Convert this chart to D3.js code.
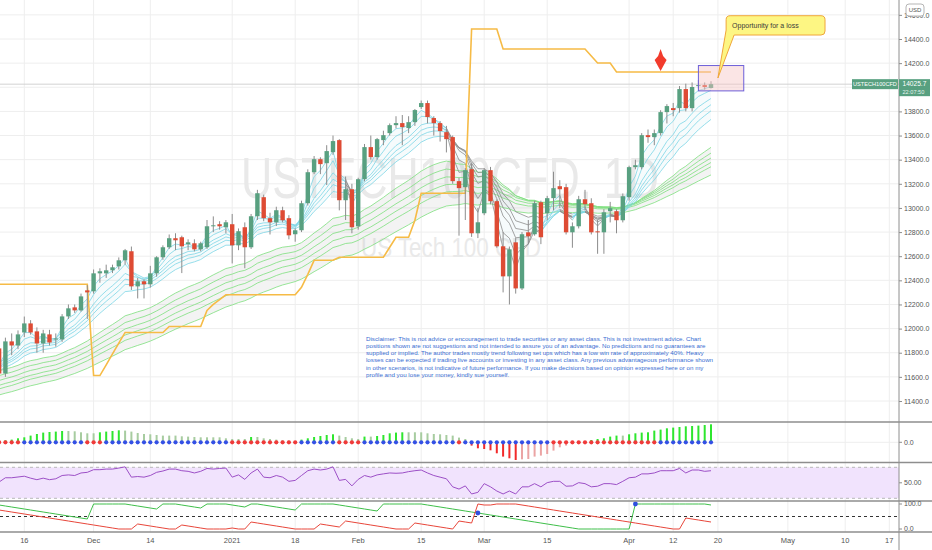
<!DOCTYPE html>
<html>
<head>
<meta charset="utf-8">
<script src="https://cdn.jsdelivr.net/npm/d3@7"></script>
<style>
body { margin: 0; background: #fff; }
svg text { font-family: "Liberation Sans", Arial, sans-serif; }
</style>
</head>
<body>
<script>
//daily candles, 10 nov 2020 -> 20 apr 2021, one entry per bar index
var open = [11836,11628,11894,11860,11968,12043,11977,11877,11952,11910,
    11910,12101,12176,12151,12317,12309,12458,12458,12483,12516,
    12566,12641,12350,12392,12367,12458,12591,12674,12749,12757,
    12699,12707,12657,12674,12848,12865,12840,12865,12690,12840,
    12674,12931,13089,12915,12881,12981,12915,12782,12815,13039,
    13296,13404,13371,13462,13562,13064,13155,12848,13238,13504,
    13421,13562,13620,13686,13703,13662,13711,13836,13869,13745,
    13703,13628,13587,13222,13172,13321,12790,12956,13313,13056,
    12682,12433,12715,12333,12798,12782,13047,12956,13081,13180,
    13172,12798,12848,13072,13039,12806,12798,12973,12973,12898,
    13089,13338,13338,13603,13587,13620,13794,13827,13827,13985,
    13827,14010,14018,13994];
var close = [11628,11894,11860,11952,12043,11968,11877,11960,11885,11918,
    12101,12168,12151,12267,12300,12458,12475,12483,12508,12566,
    12649,12350,12392,12367,12458,12591,12674,12749,12732,12682,
    12715,12657,12707,12848,12856,12848,12881,12690,12807,12674,
    12931,13122,12915,12881,12981,12898,12773,12815,13039,13296,
    13404,13363,13471,13554,13064,13155,12840,13238,13504,13421,
    13570,13603,13686,13703,13670,13711,13811,13869,13753,13703,
    13637,13570,13222,13164,13313,12790,12881,13313,13056,12682,
    12433,12657,12333,12782,12765,13039,12757,13081,13164,13155,
    12798,12848,13072,13031,12798,12798,12964,12998,12898,13097,
    13338,13354,13603,13587,13620,13794,13844,13811,13985,13827,
    14002,14018,14002,14025.7];
var high = [11880,11925,11960,11985,12100,12070,12010,11990,11990,11960,
    12120,12200,12200,12290,12360,12490,12500,12530,12530,12590,
    12660,12680,12420,12410,12520,12600,12690,12780,12790,12770,
    12740,12740,12720,12900,12930,12890,12900,12950,12830,12880,
    12950,13150,13110,12960,13010,13010,12940,12830,13060,13320,
    13430,13420,13520,13600,13570,13260,13200,13250,13530,13600,
    13580,13640,13700,13760,13770,13760,13820,13890,13890,13760,
    13720,13680,13600,13250,13330,13370,13000,13330,13340,13070,
    12800,12680,12750,12800,12900,13060,13060,13100,13300,13230,
    13200,12880,13100,13150,13080,12900,12990,13050,12990,13120,
    13350,13400,13620,13650,13650,13810,13860,13870,14010,14030,
    14040,14060,14040,14050];
var low = [11560,11600,11780,11830,11930,11950,11800,11800,11860,11850,
    11890,12080,12130,12140,12080,12290,12380,12420,12460,12490,
    12530,12320,12250,12250,12340,12430,12570,12660,12650,12460,
    12650,12640,12640,12660,12800,12820,12790,12540,12650,12500,
    12660,12900,12890,12780,12850,12880,12740,12720,12800,13020,
    13280,13280,13190,13440,12980,12900,12790,12820,13220,13400,
    13400,13520,13600,13660,13520,13620,13680,13820,13700,13600,
    13550,13460,13200,12770,12900,12760,12750,12940,13030,12670,
    12300,12200,12290,12320,12700,12770,12700,12900,12980,13000,
    12780,12670,12830,12980,12780,12620,12620,12880,12790,12880,
    13060,13320,13320,13540,13520,13600,13700,13760,13790,13800,
    13800,13990,13980,13990];

//trailing stop (orange)
var stop = [12367,12367,12367,12367,12367,12367,12367,12367,12367,12367,
    12367,12367,12367,12367,12367,11611,11611,11700,11790,11880,
    11968,11968,11968,11968,11968,11968,11968,12018,12018,12018,
    12018,12018,12018,12151,12200,12240,12280,12280,12280,12280,
    12280,12280,12280,12280,12280,12280,12280,12280,12342,12450,
    12566,12566,12566,12566,12591,12591,12591,12591,12591,12591,
    12591,12591,12674,12757,12757,12757,12898,13122,13122,13122,
    13122,13122,13122,13122,13122,14483,14483,14483,14483,14483,
    14317,14317,14317,14317,14317,14317,14317,14317,14317,14317,
    14317,14317,14317,14317,14259,14201,14201,14201,14126,14126,
    14126,14126,14126,14126,14126,14126,14126,14126,14126,14126,
    14126,14126,14126,14126];

//moving average ribbons, with the value each line had at the first bar
var shortPeriods = [3, 5, 8, 10, 12, 15];
var shortSeeds = [11700, 11700, 11690, 11680, 11670, 11650];
var longPeriods = [30, 35, 40, 45, 50, 60];
var longSeeds = [11650, 11610, 11570, 11530, 11500, 11450];

//squeeze momentum histogram + squeeze dots (r = on, b = off)
var sqz = [65,100,135,200,250,335,415,485,515,535,
    565,565,550,500,450,450,500,535,565,600,
    585,535,465,415,400,365,335,335,335,300,
    285,265,250,250,250,250,200,165,165,165,
    265,265,200,165,135,100,85,65,135,200,
    265,315,365,400,335,265,200,165,285,285,
    315,365,450,485,500,500,500,500,450,415,
    400,365,335,235,165,-165,-300,-335,-400,-550,
    -715,-800,-885,-850,-835,-715,-665,-585,-415,-250,
    -165,-85,-50,0,115,165,200,285,335,335,
    400,450,485,500,585,635,700,735,765,800,
    815,835,865,900];
var sqzDots = ("rrrr" + "bbbbbbbbbb" + "rrr" + "bbbbbbbbbbbbbbbbbbbb" + "rrrrrrrrrrr" +
    "bbbbbb" + "rrrr" + "bbbbbbbbbbbbbbb" + "r" + "bbbbbbbbbbbbbb" +
    "rrrrrrrrrrrrrrrrr" + "bbbbbbbbb").split("");

//rsi
var rsi = [51,56.5,56.5,57.5,58.5,56,54,56,54,55.2,
    59.4,60.2,59.4,62.7,63.5,66.9,66.9,67.7,67.7,69,
    70.6,57.3,58.1,57.3,59.4,63.5,65.2,67.7,67.7,65.6,
    64.8,62.7,64.8,68.5,67.7,68.5,69,57.3,60.2,54.4,
    62.7,67.7,57.3,56.5,59.4,57.3,51.9,53.1,59.4,65.6,
    67.7,66.5,67.7,70.6,53.1,54.4,46,54.4,59.4,57.3,
    60.2,61.5,62.7,62.3,62.7,64.4,65.6,66.5,62.7,59.4,
    57.3,55.2,44.8,41.9,46,35.6,37.7,48.9,44.8,39.4,
    35.6,39.4,35.6,44.8,44.8,48.9,44.8,50.2,51.9,51.9,
    45.6,46,50.2,48.9,44.8,45.6,48.9,48.9,47.7,51.9,
    56.5,57.3,61.5,61.5,62.7,65.6,65.6,65.6,68.5,62.7,
    66.5,66.5,64.8,65.6];

//aroon up / down
var aroonUp = [96,92,88,84,80,76,72,68,64,60,
    56,52,48,44,40,100,100,100,100,100,
    100,96,92,88,84,80,100,100,100,96,
    92,88,84,100,100,100,100,96,92,88,
    100,100,96,92,88,84,80,76,100,100,
    100,100,100,100,96,92,88,84,80,76,
    72,100,100,100,100,100,100,100,96,92,
    88,84,80,76,72,68,64,60,56,52,
    48,44,40,36,32,28,24,20,16,12,
    8,4,0,0,0,0,0,0,0,0,
    0,100,100,100,100,100,100,100,100,100,
    100,100,100,96];
var aroonDown = [76,72,68,64,60,56,52,48,44,40,
    36,32,28,24,20,16,12,8,4,0,
    0,0,20,16,12,8,4,0,0,16,
    12,8,4,0,0,0,0,4,0,0,
    28,24,20,16,12,8,4,0,0,0,
    0,20,16,12,8,32,28,24,20,16,
    12,8,4,0,0,0,24,20,16,12,
    8,4,0,32,28,24,100,96,96,100,
    100,100,100,96,92,88,84,80,76,72,
    68,64,60,56,52,48,44,40,36,32,
    28,24,20,16,12,8,4,0,0,44,
    40,36,32,28];

//time axis: labels and the bar index they sit on (future ones fractional)
var tickLabels = ["16","Dec","14","2021","18","Feb","15","Mar","15","Apr","12","20","May","10","17"];
var tickIdx = [4, 15, 24, 37, 47, 57, 67, 77, 87, 100, 107, 114.1, 125.2, 134.3, 141.3];
var priceTicks = [11400,11600,11800,12000,12200,12400,12600,12800,13000,13200,13400,13600,13800,14000,14200,14400,14600];

//annotations (bar index / price)
var arrowAt = {idx: 105};
var lossBox = {idx: [111, 118.2], price: [14180, 13970]};
var callout = {idx: [115.4, 131.1], price: [14593, 14433], tipIdx: 114.1, tipPrice: 14077, text: "Opportunity for a loss"};

var disclaimer = [
    "Disclaimer: This is not advice or encouragement to trade securities or any asset class. This is not investment advice. Chart",
    "positions shown are not suggestions and not intended to assure you of an advantage. No predictions and no guarantees are",
    "supplied or implied. The author trades mostly trend following set ups which has a low win rate of approximately 40%. Heavy",
    "losses can be expected if trading live accounts or investing in any asset class. Any previous advantageous performance shown",
    "in other scenarios, is not indicative of future performance.  If you make decisions based on opinion expressed here or on my",
    "profile and you lose your money, kindly sue yourself."
];

var upColor = "#58a080";
var downColor = "#de4b34";
var width = 932, height = 550, axisX = 899;

var n = close.length;
var idx = d3.range(n);

var x = d3.scaleLinear().domain([0, 113]).range([-0.9, 711]);
var y = d3.scaleLinear().domain([11400, 14400]).range([401, 39]);
var ySqz = d3.scaleLinear().domain([-1000, 1000]).range([462.3, 422.3]);
var yRsi = d3.scaleLinear().domain([30, 70]).range([498.3, 467.3]);
var yAr = d3.scaleLinear().domain([0, 100]).range([529, 504]);

var panes = [[0, 422], [422, 462.5], [462.5, 501], [501, 532]];

const svg = d3.select("body").append("svg")
    .attr("width", width)
    .attr("height", height);

var defs = svg.append("defs");
panes.forEach((p, k) => {
    defs.append("clipPath").attr("id", "clip" + k)
        .append("rect").attr("x", 0).attr("y", p[0]).attr("width", axisX).attr("height", p[1] - p[0]);
});

//grid
var grid = svg.append("g").attr("stroke", "#eeeeee").attr("stroke-width", 1);
grid.selectAll(".vg").data(tickIdx).enter().append("line")
    .attr("x1", d => x(d)).attr("x2", d => x(d))
    .attr("y1", 0).attr("y2", 532);
grid.selectAll(".hg").data(priceTicks).enter().append("line")
    .attr("x1", 0).attr("x2", axisX)
    .attr("y1", d => y(d)).attr("y2", d => y(d));
grid.append("line").attr("x1", 0).attr("x2", axisX).attr("y1", ySqz(0)).attr("y2", ySqz(0));
grid.append("line").attr("x1", 0).attr("x2", axisX).attr("y1", yRsi(50)).attr("y2", yRsi(50));

//watermark
var wm = svg.append("g").attr("clip-path", "url(#clip0)").attr("fill", "#e9e9e9").attr("text-anchor", "middle");
wm.append("text").attr("x", 450).attr("y", 198).attr("font-size", 58)
    .attr("textLength", 418).attr("lengthAdjust", "spacingAndGlyphs")
    .text("USTECH100CFD, 1D");
wm.append("text").attr("x", 451).attr("y", 257).attr("font-size", 28)
    .attr("textLength", 180).attr("lengthAdjust", "spacingAndGlyphs")
    .text("US Tech 100 CFD");

//moving averages
function ema(vals, period, seed) {
    var k = 2 / (period + 1);
    var out = [seed];
    for (var i = 1; i < vals.length; i++) {
        out.push(out[i - 1] + k * (vals[i] - out[i - 1]));
    }
    return out;
}
var shortEmas = shortPeriods.map((p, k) => ema(close, p, shortSeeds[k]));
var longEmas = longPeriods.map((p, k) => ema(close, p, longSeeds[k]));

var main = svg.append("g").attr("clip-path", "url(#clip0)");

//grey fill inside the long ribbon
var area = d3.area()
    .x(i => x(i))
    .y0(i => y(d3.min(longEmas, e => e[i])))
    .y1(i => y(d3.max(longEmas, e => e[i])));
main.append("path").datum(idx).attr("d", area).attr("fill", "#b4b4b4").attr("opacity", 0.16);

var shortArea = d3.area()
    .x(i => x(i))
    .y0(i => y(d3.min(shortEmas, e => e[i])))
    .y1(i => y(d3.max(shortEmas, e => e[i])));
main.append("path").datum(idx).attr("d", shortArea).attr("fill", "#b4dce4").attr("opacity", 0.12);

function drawRibbon(lines, colorFn) {
    lines.forEach(e => {
        main.append("g").selectAll("line").data(idx.slice(1)).enter().append("line")
            .attr("x1", i => x(i - 1)).attr("y1", i => y(e[i - 1]))
            .attr("x2", i => x(i)).attr("y2", i => y(e[i]))
            .attr("stroke", i => colorFn(i))
            .attr("stroke-width", 0.8);
    });
}
//long group green while ema30 above ema60, short group cyan while ema3 above ema15
drawRibbon(longEmas, i => longEmas[0][i] >= longEmas[5][i] ? "#7ee07e" : "#a9a9a9");
drawRibbon(shortEmas, i => shortEmas[0][i] >= shortEmas[5][i] ? "#7cd6e6" : "#8d8d8d");

//trailing stop
main.append("path").datum(idx)
    .attr("d", d3.line().x(i => x(i)).y(i => y(stop[i])))
    .attr("fill", "none")
    .attr("stroke", "#f6bb46")
    .attr("stroke-width", 1.6);

//last price line
var last = close[n - 1];
main.append("line").attr("x1", 0).attr("x2", axisX)
    .attr("y1", y(last)).attr("y2", y(last))
    .attr("stroke", "#d2d2d2").attr("stroke-width", 1);

//candles
var candles = main.append("g").selectAll("g").data(idx).enter().append("g");
candles.append("line")
    .attr("x1", i => x(i)).attr("x2", i => x(i))
    .attr("y1", i => y(high[i])).attr("y2", i => y(low[i]))
    .attr("stroke", "#8c8c8c").attr("stroke-width", 1);
candles.append("rect")
    .attr("x", i => x(i) - 2.2)
    .attr("width", 4.4)
    .attr("y", i => y(Math.max(open[i], close[i])))
    .attr("height", i => Math.max(1, Math.abs(y(open[i]) - y(close[i]))))
    .attr("fill", i => close[i] >= open[i] ? upColor : downColor);

//red arrow above the stop
var ax = x(arrowAt.idx), ay = y(stop[arrowAt.idx]) - 1;
main.append("path")
    .attr("d", `M${ax},${ay - 22} L${ax + 2.5},${ay - 15} L${ax + 6},${ay - 11} L${ax},${ay} L${ax - 6},${ay - 11} L${ax - 2.5},${ay - 15} Z`)
    .attr("fill", "#f23b2c");

//loss box
svg.append("rect")
    .attr("x", x(lossBox.idx[0])).attr("y", y(lossBox.price[0]))
    .attr("width", x(lossBox.idx[1]) - x(lossBox.idx[0]))
    .attr("height", y(lossBox.price[1]) - y(lossBox.price[0]))
    .attr("fill", "#f7c6c6").attr("fill-opacity", 0.45)
    .attr("stroke", "#6d5fd8").attr("stroke-width", 1);

//callout bubble
var cx0 = x(callout.idx[0]), cx1 = x(callout.idx[1]);
var cy0 = y(callout.price[0]), cy1 = y(callout.price[1]);
var tx = x(callout.tipIdx), ty = y(callout.tipPrice), r = 4;
svg.append("path")
    .attr("d", `M${cx0 + r},${cy0} H${cx1 - r} Q${cx1},${cy0} ${cx1},${cy0 + r} V${cy1 - r} Q${cx1},${cy1} ${cx1 - r},${cy1}` +
        ` H${cx0 + 8} L${tx},${ty} L${cx0},${cy1 - 5} V${cy0 + r} Q${cx0},${cy0} ${cx0 + r},${cy0} Z`)
    .attr("fill", "#fdf683")
    .attr("stroke", "#f0a63a")
    .attr("stroke-width", 1);
svg.append("text").attr("x", cx0 + 6).attr("y", (cy0 + cy1) / 2 + 2.5)
    .attr("font-size", 7).attr("fill", "#3a3a3a")
    .text(callout.text);

//disclaimer
svg.append("g").attr("fill", "#3a6ed2").attr("font-size", 6.2)
    .selectAll("text").data(disclaimer).enter().append("text")
    .attr("x", 366).attr("y", (d, k) => 340.5 + k * 7.3)
    .text(d => d);

//squeeze momentum pane
var p1 = svg.append("g").attr("clip-path", "url(#clip1)");
p1.selectAll("rect").data(idx).enter().append("rect")
    .attr("x", i => x(i) - 1)
    .attr("width", 2)
    .attr("y", i => ySqz(Math.max(sqz[i], 0)))
    .attr("height", i => Math.abs(ySqz(sqz[i]) - ySqz(0)))
    .attr("fill", i => {
        var prev = i > 0 ? sqz[i - 1] : sqz[i];
        if (sqz[i] >= 0) return sqz[i] > prev ? "#2ee62e" : "#a7cca0";
        return sqz[i] < prev ? "#f22a2a" : "#eba4a4";
    });
p1.selectAll("circle").data(idx).enter().append("circle")
    .attr("cx", i => x(i)).attr("cy", ySqz(0)).attr("r", 2.1)
    .attr("fill", i => sqzDots[i] == "r" ? "#f03a3a" : "#3450e6");

//rsi pane
var p2 = svg.append("g").attr("clip-path", "url(#clip2)");
p2.append("rect").attr("x", 0).attr("width", axisX)
    .attr("y", yRsi(70)).attr("height", yRsi(30) - yRsi(70))
    .attr("fill", "#f1e3fd");
[70, 30].forEach(v => {
    p2.append("line").attr("x1", 0).attr("x2", axisX).attr("y1", yRsi(v)).attr("y2", yRsi(v))
        .attr("stroke", "#b8b8b8").attr("stroke-dasharray", "3,3");
});
p2.append("path").datum(idx)
    .attr("d", d3.line().x(i => x(i)).y(i => yRsi(rsi[i])))
    .attr("fill", "none").attr("stroke", "#9c4fc6").attr("stroke-width", 1);

//aroon pane
var p3 = svg.append("g").attr("clip-path", "url(#clip3)");
p3.append("line").attr("x1", 0).attr("x2", axisX).attr("y1", yAr(50)).attr("y2", yAr(50))
    .attr("stroke", "#333").attr("stroke-dasharray", "3,3");
p3.append("path").datum(idx)
    .attr("d", d3.line().x(i => x(i)).y(i => yAr(aroonUp[i])))
    .attr("fill", "none").attr("stroke", "#3fbf4a").attr("stroke-width", 1);
p3.append("path").datum(idx)
    .attr("d", d3.line().x(i => x(i)).y(i => yAr(aroonDown[i])))
    .attr("fill", "none").attr("stroke", "#e8463a").attr("stroke-width", 1);
var crosses = idx.filter(i => i > 0 && Math.sign(aroonUp[i] - aroonDown[i]) != Math.sign(aroonUp[i - 1] - aroonDown[i - 1]));
p3.selectAll("circle").data(crosses).enter().append("circle")
    .attr("cx", i => x(i)).attr("cy", i => yAr(aroonUp[i])).attr("r", 2.4)
    .attr("fill", "#2f4fe0");

//pane separators
svg.append("g").attr("stroke", "#8e8e8e").attr("stroke-width", 1.4)
    .selectAll("line").data([422, 462.5, 501, 532]).enter().append("line")
    .attr("x1", 0).attr("x2", width).attr("y1", d => d).attr("y2", d => d);

//price scale (the label under the last price badge is hidden, like on the chart)
var last = close[n - 1];
var labelTicks = priceTicks.filter(v => Math.abs(y(v) - y(last)) > 10);
svg.append("line").attr("x1", axisX).attr("x2", axisX).attr("y1", 0).attr("y2", height)
    .attr("stroke", "#8e8e8e").attr("stroke-width", 1);
var yAxis = g => g
    .attr("transform", `translate(${axisX},0)`)
    .call(d3.axisRight(y).tickValues(labelTicks).tickSize(3).tickFormat(d3.format(".1f")))
    .call(g => g.select(".domain").remove())
    .call(g => g.selectAll("line").attr("stroke", "#8e8e8e"))
    .call(g => g.selectAll("text").attr("fill", "#555").attr("font-size", 7)
        .attr("font-family", "Liberation Sans, Arial, sans-serif").attr("x", 5));
svg.append("g").call(yAxis);

//lower pane scale labels
var paneLabels = [[ySqz(0), "0.0"], [yRsi(50), "50.00"], [yAr(100), "100.0"], [yAr(0), "0.0"]];
svg.append("g").selectAll("g").data(paneLabels).enter().append("g")
    .each(function (d) {
        var g = d3.select(this);
        g.append("line").attr("x1", axisX).attr("x2", axisX + 3).attr("y1", d[0]).attr("y2", d[0]).attr("stroke", "#8e8e8e");
        g.append("text").attr("x", axisX + 5).attr("y", d[0]).attr("dy", "0.32em")
            .attr("font-size", 7).attr("fill", "#555").text(d[1]);
    });

//last price labels
var ly = y(last);
svg.append("rect").attr("x", 852).attr("y", ly - 5).attr("width", 46).attr("height", 10).attr("fill", upColor);
svg.append("text").attr("x", 875).attr("y", ly + 2.1).attr("text-anchor", "middle")
    .attr("font-size", 5.6).attr("fill", "#fff").text("USTECH100CFD");
svg.append("rect").attr("x", axisX).attr("y", ly - 5).attr("width", 31).attr("height", 17).attr("fill", upColor);
svg.append("text").attr("x", axisX + 3.5).attr("y", ly + 2.2).attr("font-size", 6.6).attr("fill", "#fff").text(last.toFixed(1));
svg.append("text").attr("x", axisX + 3.5).attr("y", ly + 10).attr("font-size", 5.6).attr("fill", "#e6f2ec").text("22:07:50");

//currency badge
svg.append("rect").attr("x", 906).attr("y", 4).attr("width", 18).attr("height", 12).attr("rx", 3)
    .attr("fill", "#fff").attr("stroke", "#b5b5b5");
svg.append("text").attr("x", 915).attr("y", 12.3).attr("text-anchor", "middle")
    .attr("font-size", 6).attr("fill", "#555").text("USD");

//time axis
svg.append("g").selectAll("text").data(tickIdx).enter().append("text")
    .attr("x", d => x(d)).attr("y", 542.5)
    .attr("text-anchor", "middle").attr("font-size", 7.5).attr("fill", "#555")
    .text((d, k) => tickLabels[k]);
</script>
</body>
</html>
